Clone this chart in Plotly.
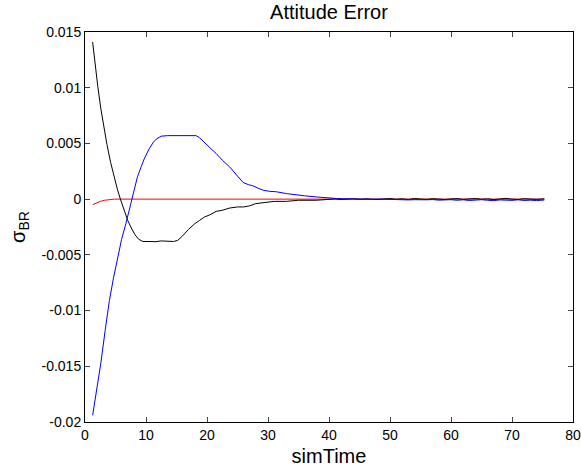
import plotly.graph_objects as go

# ---- data ----
t_black = [1.25, 1.7, 2.1, 2.6, 3.0, 3.6, 4.2, 4.8, 5.3, 5.8, 6.4, 7.0, 7.6, 8.2, 8.8, 9.5,
           10.5, 11.5, 12.5, 13.5, 14.5, 15.2, 16.0, 17.0, 18.0, 18.8, 19.6, 20.5, 21.5, 22.5,
           23.7, 25.0, 26.0, 27.0, 28.0, 29.5, 31.1, 33.0, 35.0, 37.9, 39.0, 40.0,
           41, 42, 43, 44, 45, 46, 47, 48, 49, 50, 51, 52, 53, 54, 55, 56, 57, 58, 59, 60,
           61, 62, 63, 64, 65, 66, 67, 68, 69, 70, 71, 72, 73, 74, 75.3]
y_black = [0.0141, 0.0119, 0.0101, 0.0081, 0.0067, 0.0049, 0.0033, 0.0019, 0.0009, 0.0000,
           -0.0010, -0.0019, -0.0026, -0.0032, -0.0036, -0.0038, -0.0038, -0.00382, -0.00375,
           -0.0038, -0.0038, -0.0037, -0.0033, -0.0027, -0.0022, -0.0019, -0.0016, -0.0014,
           -0.0011, -0.0010, -0.0008, -0.0007, -0.0007, -0.0006, -0.0004, -0.0003, -0.0002,
           -0.0002, -0.0001, -0.0001, -0.00005, 0.0,
           0.00002, -0.00003, 0.00001, 0.00004, -0.00002, 0.00003, 0.0, -0.00004, 0.00002,
           0.00005, -0.00001, 0.00003, -0.00003, 0.00006, 0.00001, -0.00002, 0.00004, 0.0,
           -0.00003, 0.00002, 0.00005, -0.00002, 0.00001, 0.00006, -0.00001, 0.00003,
           -0.00004, 0.00002, 0.00007, 0.0, -0.00003, 0.00004, 0.00001, -0.00002, 0.00003]

t_blue = [1.25, 2.0, 2.6, 3.3, 4.0, 4.7, 5.35, 6.0, 6.7, 7.5, 8.0, 8.6, 9.2, 9.7, 10.5, 11.2,
          11.7, 12.5, 13.5, 15.0, 16.5, 18.2, 18.8, 19.5, 20.5, 21.5, 22.5, 23.7, 24.8, 25.9,
          26.8, 27.5, 28.3, 29.2, 30.3, 31.4, 33.0, 34.6, 36.0, 37.9, 39.5, 41.2,
          42, 43, 44, 45, 46, 47, 48, 49, 50, 51, 52, 53, 54, 55, 56, 57, 58, 59, 60,
          61, 62, 63, 64, 65, 66, 67, 68, 69, 70, 71, 72, 73, 74, 75.3]
y_blue = [-0.0194, -0.0168, -0.0147, -0.0118, -0.0091, -0.0070, -0.0052, -0.0036, -0.0022,
          -0.0004, 0.0008, 0.0020, 0.0029, 0.0036, 0.0045, 0.0051, 0.0054, 0.00565, 0.0057,
          0.00568, 0.0057, 0.0057, 0.0055, 0.0051, 0.0046, 0.0041, 0.0035, 0.0029, 0.0022,
          0.0015, 0.0013, 0.0012, 0.0010, 0.0008, 0.0007, 0.00066, 0.0005, 0.00036, 0.0003,
          0.0002, 0.0001, 0.00006,
          0.00004, 0.00002, 0.00003, 0.0, 0.00001, -0.00002, 0.00001, -0.00001, -0.00003,
          -0.00006, -0.00004, -0.00007, -0.00005, -0.00008, -0.00006, -0.00004, -0.00009,
          -0.00007, -0.00005, -0.0001, -0.00006, -0.00012, -0.00008, -0.00005, -0.0001,
          -0.00013, -0.00007, -0.00009, -0.00011, -0.00006, -0.00012, -0.00009, -0.00013,
          -0.00008, -0.00011]

t_red = [1.25, 1.8, 2.5, 3.2, 4.0, 4.8, 10.0, 20.0, 40.0, 60.0, 75.3]
y_red = [-0.0005, -0.00035, -0.0002, -0.0001, -0.00004, 0.0, 0.0, 0.0, 0.0, 0.0, 0.0]

x_ticks = [0, 10, 20, 30, 40, 50, 60, 70, 80]
y_ticks = [-0.02, -0.015, -0.01, -0.005, 0, 0.005, 0.01, 0.015]
y_ticktext = ["-0.02", "-0.015", "-0.01", "-0.005", "0", "0.005", "0.01", "0.015"]

FONT = "Liberation Sans, Arial, sans-serif"

fig = go.Figure()
fig.add_trace(go.Scatter(x=t_red, y=y_red, mode="lines",
                         line=dict(color="#ff0000", width=1), showlegend=False))
fig.add_trace(go.Scatter(x=t_black, y=y_black, mode="lines",
                         line=dict(color="#000000", width=1), showlegend=False))
fig.add_trace(go.Scatter(x=t_blue, y=y_blue, mode="lines",
                         line=dict(color="#0000ff", width=1), showlegend=False))

fig.update_layout(
    width=581, height=473,
    margin=dict(l=85, r=8, t=32, b=51),
    paper_bgcolor="white", plot_bgcolor="white",
    font=dict(family=FONT, color="black", size=14),
    title=dict(text="Attitude Error", x=0.5, xref="paper", xanchor="center",
               y=1 - 12 / 473, yref="container", yanchor="middle",
               font=dict(size=20, family=FONT, color="black")),
    xaxis=dict(range=[0, 80], tickvals=x_ticks, ticks="inside", ticklen=5,
               showline=True, linecolor="black", linewidth=1, mirror="ticks",
               showgrid=False, zeroline=False, automargin=False,
               tickfont=dict(size=14),
               title=dict(text="simTime", font=dict(size=20), standoff=7)),
    yaxis=dict(range=[-0.02, 0.015], tickvals=y_ticks, ticktext=y_ticktext,
               ticks="inside", ticklen=5,
               showline=True, linecolor="black", linewidth=1, mirror="ticks",
               showgrid=False, zeroline=False, automargin=False,
               tickfont=dict(size=14),
               title=dict(text="σ<sub>BR</sub>", font=dict(size=20), standoff=10)),
)

fig.write_html("out.html")
